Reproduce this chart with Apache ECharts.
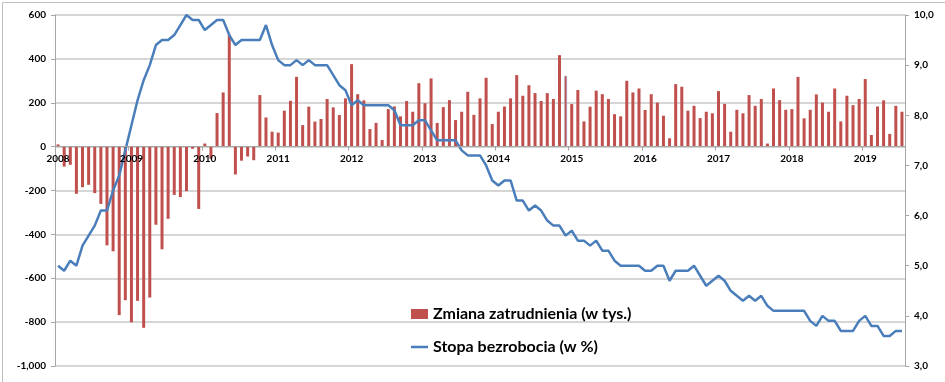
<!DOCTYPE html>
<html><head><meta charset="utf-8">
<script src="https://cdn.jsdelivr.net/npm/echarts@6/dist/echarts.min.js"></script>
<style>html,body{margin:0;padding:0;background:#fff}#c{width:945px;height:382px}</style>
</head><body><div id="c"></div>
<script>
// Data (monthly, Jan 2008 - Jul 2019)
const years = [2008, 2009, 2010, 2011, 2012, 2013, 2014, 2015, 2016, 2017, 2018, 2019];
const monthsInLastYear = 7;

const employmentChange = [
  10, -91, -83, -215, -185, -174, -212, -261, -450, -477, -768, -700,
  -801, -703, -826, -688, -356, -468, -329, -220, -230, -203, -10, -284,
  14, -55, 153, 247, 510, -127, -64, -45, -62, 235, 133, 68,
  64, 164, 209, 318, 98, 182, 114, 126, 217, 179, 144, 220,
  376, 239, 211, 80, 108, 30, 171, 183, 138, 208, 159, 289,
  198, 311, 108, 180, 212, 121, 159, 250, 145, 220, 314, 103,
  159, 183, 220, 326, 232, 280, 244, 208, 244, 217, 417, 323,
  194, 258, 115, 182, 255, 239, 217, 148, 138, 300, 247, 265,
  167, 239, 201, 141, 38, 285, 273, 164, 186, 130, 159, 152,
  253, 195, 68, 168, 152, 235, 186, 217, 14, 265, 212, 168,
  171, 318, 129, 168, 238, 201, 159, 265, 115, 232, 189, 217,
  308, 53, 183, 211, 58, 186, 159
];

const unemploymentRate = [
  5.0, 4.9, 5.1, 5.0, 5.4, 5.6, 5.8, 6.1, 6.1, 6.5, 6.8, 7.3,
  7.8, 8.3, 8.7, 9.0, 9.4, 9.5, 9.5, 9.6, 9.8, 10.0, 9.9, 9.9,
  9.7, 9.8, 9.9, 9.9, 9.6, 9.4, 9.5, 9.5, 9.5, 9.5, 9.8, 9.4,
  9.1, 9.0, 9.0, 9.1, 9.0, 9.1, 9.0, 9.0, 9.0, 8.8, 8.6, 8.5,
  8.2, 8.3, 8.2, 8.2, 8.2, 8.2, 8.2, 8.1, 7.8, 7.8, 7.8, 7.9,
  7.9, 7.7, 7.5, 7.5, 7.5, 7.5, 7.3, 7.2, 7.2, 7.2, 7.0, 6.7,
  6.6, 6.7, 6.7, 6.3, 6.3, 6.1, 6.2, 6.1, 5.9, 5.8, 5.8, 5.6,
  5.7, 5.5, 5.5, 5.4, 5.5, 5.3, 5.3, 5.1, 5.0, 5.0, 5.0, 5.0,
  4.9, 4.9, 5.0, 5.0, 4.7, 4.9, 4.9, 4.9, 5.0, 4.8, 4.6, 4.7,
  4.8, 4.7, 4.5, 4.4, 4.3, 4.4, 4.3, 4.4, 4.2, 4.1, 4.1, 4.1,
  4.1, 4.1, 4.1, 3.9, 3.8, 4.0, 3.9, 3.9, 3.7, 3.7, 3.7, 3.9,
  4.0, 3.8, 3.8, 3.6, 3.6, 3.7, 3.7
];

const leftAxisTicks = [-1000, -800, -600, -400, -200, 0, 200, 400, 600];
const rightAxisTicks = [3, 4, 5, 6, 7, 8, 9, 10];
const seriesNames = ['Zmiana zatrudnienia (w tys.)', 'Stopa bezrobocia (w %)'];
const highlightedIndex = 83;

// Build categories
const categories = [];
years.forEach((y, yi) => {
  const n = yi === years.length - 1 ? monthsInLastYear : 12;
  for (let m = 1; m <= n; m++) categories.push(y + '-' + String(m).padStart(2, '0'));
});

const barData = employmentChange.map((v, i) => i === highlightedIndex
  ? { value: v, itemStyle: { borderColor: '#a9c6ea', borderWidth: 0.6 } }
  : v);

const W = 945, H = 382;
const GRID = { left: 55, right: 40, top: 15, bottom: 16 };
const yMin = leftAxisTicks[0], yMax = leftAxisTicks[leftAxisTicks.length - 1];
// shift the category axis (line, ticks, labels) up to the zero level of the left axis
const gridH = H - GRID.top - GRID.bottom;
const xAxisOffset = -gridH * (0 - yMin) / (yMax - yMin);

const FONT = 'Lato';
const axisGrey = '#a6a6a6';
const yearTick = (idx) => idx % 12 === 0;
const legendText = { fontFamily: FONT, fontWeight: 'bold', fontSize: 16, color: '#000' };

const chart = echarts.init(document.getElementById('c'), null, { renderer: 'canvas' });
chart.setOption({
  animation: false,
  backgroundColor: '#fff',
  graphic: [{
    type: 'rect', left: 0, top: 0, z: 100, silent: true,
    shape: { x: 0.5, y: 0.5, width: W - 1, height: H - 1 },
    style: { fill: 'none', stroke: '#bfbfbf', lineWidth: 1 }
  }],
  grid: GRID,
  legend: [{
    orient: 'vertical', left: 411, top: 306, padding: 0, itemWidth: 17, itemHeight: 10,
    textStyle: legendText, data: [{ name: seriesNames[0], icon: 'rect' }]
  }, {
    orient: 'vertical', left: 411, top: 339, padding: 0, itemWidth: 17, itemHeight: 2.5,
    textStyle: legendText, data: [{ name: seriesNames[1], icon: 'rect' }]
  }],
  xAxis: {
    type: 'category', data: categories, boundaryGap: true, position: 'bottom',
    offset: xAxisOffset, z: 10,
    axisLine: { onZero: false, lineStyle: { color: axisGrey, width: 1 } },
    axisTick: { show: true, interval: yearTick, length: 4, lineStyle: { color: axisGrey } },
    axisLabel: {
      interval: yearTick, formatter: (v) => v.slice(0, 4), margin: 7,
      fontFamily: FONT, fontWeight: 'bold', fontSize: 10, color: '#000'
    },
    splitLine: { show: false }
  },
  yAxis: [{
    type: 'value', position: 'left', min: yMin, max: yMax, interval: 200,
    axisLine: { show: true, lineStyle: { color: axisGrey } },
    axisTick: { show: true, length: 4, lineStyle: { color: axisGrey } },
    axisLabel: { margin: 9, fontFamily: FONT, fontWeight: 'bold', fontSize: 10, color: '#000' },
    splitLine: { show: true, lineStyle: { color: '#c8c8c8', width: 1.5 } }
  }, {
    type: 'value', position: 'right',
    min: rightAxisTicks[0], max: rightAxisTicks[rightAxisTicks.length - 1], interval: 1,
    axisLine: { show: true, lineStyle: { color: axisGrey } },
    axisTick: { show: true, length: 4, lineStyle: { color: axisGrey } },
    axisLabel: {
      margin: 9, fontFamily: FONT, fontWeight: 'bold', fontSize: 10, color: '#000',
      formatter: (v) => v.toFixed(1).replace('.', ',')
    },
    splitLine: { show: false }
  }],
  series: [{
    name: seriesNames[0], type: 'bar', yAxisIndex: 0, barWidth: 3,
    itemStyle: { color: '#c0504d' }, data: barData
  }, {
    name: seriesNames[1], type: 'line', yAxisIndex: 1, symbol: 'none', z: 5,
    lineStyle: { color: '#4a7ebb', width: 2.5 }, itemStyle: { color: '#4a7ebb' },
    data: unemploymentRate
  }]
});
</script>
</body></html>
